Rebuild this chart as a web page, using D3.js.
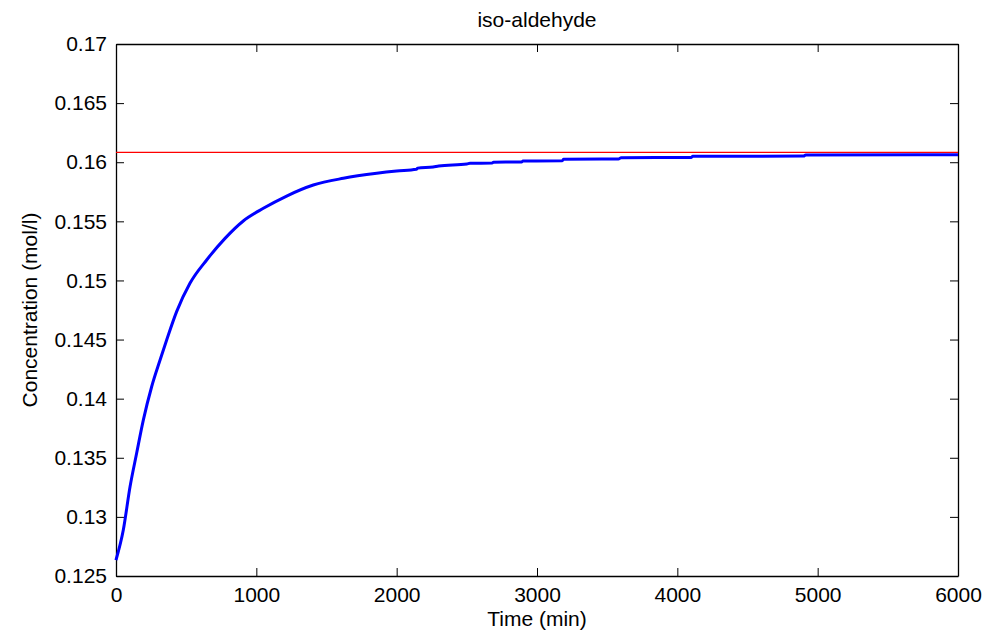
<!DOCTYPE html>
<html>
<head>
<meta charset="utf-8">
<script src="https://cdn.jsdelivr.net/npm/d3@7"></script>
<style>
  body { margin: 0; background: #fff; }
  text { font-family: "Liberation Sans", Arial, sans-serif; fill: #000; }
</style>
</head>
<body>
<div id="chart"></div>
<script>
// values
const timeMin = [0, 52, 100, 147, 195, 254, 314, 361, 432, 527, 646, 777, 907, 1050, 1216, 1406, 1620,
  1858, 2000, 2140, 2150, 2260, 2300, 2500, 2523, 2680, 2690, 2890, 2900, 3180, 3190, 3580, 3600, 4100, 4110,
  4900, 4915, 6000];
const concentration = [0.12635, 0.12889, 0.13255, 0.13538, 0.1382, 0.14101, 0.14327, 0.14496, 0.14736,
  0.14976, 0.15173, 0.15356, 0.15503, 0.1561, 0.15714, 0.15807, 0.15864,
  0.15906, 0.15925, 0.1594, 0.1595, 0.1596, 0.15968, 0.15985, 0.15991, 0.15993, 0.16, 0.16002, 0.1601,
  0.16013, 0.16025, 0.16027, 0.16038, 0.1604, 0.1605, 0.16052, 0.16061, 0.16063];
const equilibrium = 0.16083;   // red reference line
const xTicks = [0, 1000, 2000, 3000, 4000, 5000, 6000];
const yTicks = [0.125, 0.13, 0.135, 0.14, 0.145, 0.15, 0.155, 0.16, 0.165, 0.17];

const W = 996, H = 635;
const margin = { top: 44, right: 38, bottom: 59, left: 116 },
    width = W - margin.left - margin.right,
    height = H - margin.top - margin.bottom;

const svg = d3.select("#chart")
    .append("svg")
    .attr("width", W)
    .attr("height", H);

const g = svg.append("g")
    .attr("transform", `translate(${margin.left}, ${margin.top})`);

const x = d3.scaleLinear().domain([0, 6000]).range([0, width]);
const y = d3.scaleLinear().domain([0.125, 0.17]).range([height, 0]);

const tickLen = 8;
const fmtY = d => String(+d.toFixed(3));

// axes, MATLAB style box with inward ticks
const axBottom = g.append("g")
    .attr("transform", `translate(0, ${height})`)
    .call(d3.axisBottom(x).tickValues(xTicks).tickFormat(d3.format("d")).tickSizeInner(-tickLen).tickSizeOuter(0).tickPadding(11));
const axLeft = g.append("g")
    .call(d3.axisLeft(y).tickValues(yTicks).tickFormat(fmtY).tickSizeInner(-tickLen).tickSizeOuter(0).tickPadding(9));
const axTop = g.append("g")
    .call(d3.axisTop(x).tickValues(xTicks).tickSizeInner(-tickLen).tickSizeOuter(0).tickFormat(""));
const axRight = g.append("g")
    .attr("transform", `translate(${width}, 0)`)
    .call(d3.axisRight(y).tickValues(yTicks).tickSizeInner(-tickLen).tickSizeOuter(0).tickFormat(""));

[axBottom, axLeft, axTop, axRight].forEach(a => {
  a.select(".domain").attr("stroke", "#000").attr("stroke-width", 1.3);
  a.selectAll(".tick line").attr("stroke", "#000").attr("stroke-width", 1);
  a.selectAll(".tick text").style("font-size", "21px").style("font-family", "Liberation Sans, Arial, sans-serif");
});

// reference line
g.append("line")
    .attr("x1", x(0)).attr("x2", x(6000))
    .attr("y1", y(equilibrium)).attr("y2", y(equilibrium))
    .attr("stroke", "#ff0000")
    .attr("stroke-width", 1.2);

// concentration curve
const data = timeMin.map((t, i) => [t, concentration[i]]);
g.append("path")
    .datum(data)
    .attr("fill", "none")
    .attr("stroke", "#0000ff")
    .attr("stroke-width", 3)
    .attr("stroke-linejoin", "round")
    .attr("d", d3.line().curve(d3.curveMonotoneX).x(d => x(d[0])).y(d => y(d[1])));

// labels
svg.append("text")
    .attr("x", margin.left + width / 2)
    .attr("y", 27)
    .attr("text-anchor", "middle")
    .style("font-size", "21px")
    .text("iso-aldehyde");

svg.append("text")
    .attr("x", margin.left + width / 2)
    .attr("y", 626)
    .attr("text-anchor", "middle")
    .style("font-size", "21px")
    .text("Time (min)");

svg.append("text")
    .attr("transform", `translate(37, ${margin.top + height / 2}) rotate(-90)`)
    .attr("text-anchor", "middle")
    .style("font-size", "21px")
    .text("Concentration (mol/l)");
</script>
</body>
</html>
